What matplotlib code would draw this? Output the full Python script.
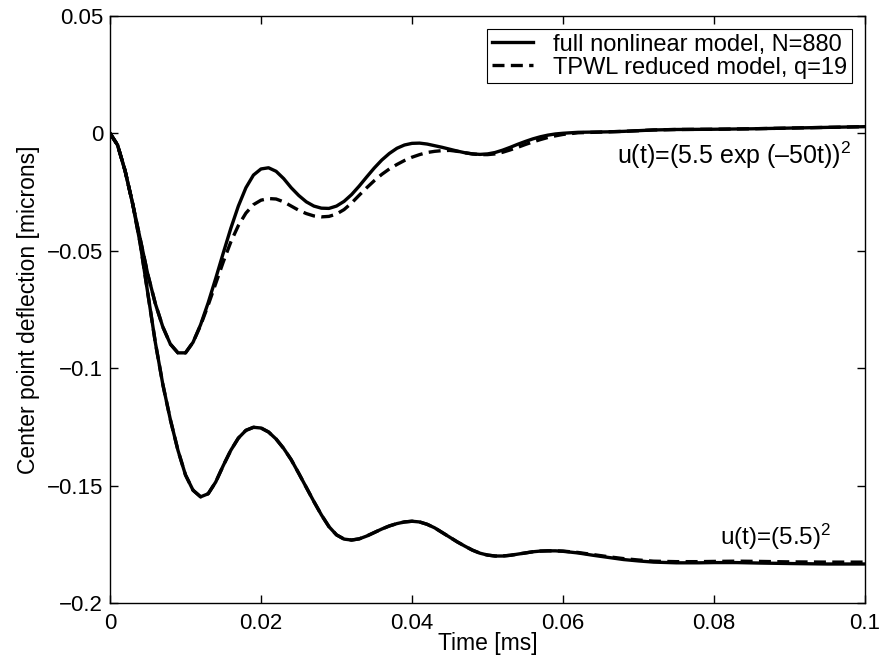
import matplotlib
matplotlib.use("Agg")
import matplotlib.pyplot as plt
from matplotlib.lines import Line2D

plt.rcParams['font.family'] = ['Liberation Sans', 'DejaVu Sans']
plt.rcParams['mathtext.fontset'] = 'custom'
plt.rcParams['mathtext.rm'] = 'Liberation Sans'
plt.rcParams['mathtext.default'] = 'regular'

# ---- data (time in ms, deflection in microns) ----
t_step = [0, 0.001, 0.002, 0.003, 0.004, 0.005, 0.006, 0.007, 0.008, 0.009,
          0.010, 0.011, 0.012, 0.013, 0.014, 0.015, 0.016, 0.017, 0.018, 0.019,
          0.020, 0.021, 0.022, 0.023, 0.024, 0.025, 0.026, 0.027, 0.028, 0.029,
          0.030, 0.031, 0.032, 0.033, 0.034, 0.035, 0.036, 0.037, 0.038, 0.039,
          0.040, 0.041, 0.042, 0.043, 0.044, 0.045, 0.046, 0.047, 0.048, 0.049,
          0.050, 0.051, 0.052, 0.053, 0.054, 0.055, 0.056, 0.057, 0.058, 0.059,
          0.060, 0.062, 0.064, 0.066, 0.068, 0.070, 0.072, 0.075, 0.078, 0.080,
          0.083, 0.086, 0.090, 0.095, 0.100]
full_step = [0, -0.005, -0.016, -0.030, -0.047, -0.068, -0.089, -0.107, -0.122, -0.135,
             -0.1455, -0.152, -0.1548, -0.1535, -0.1485, -0.1415, -0.135, -0.1298, -0.1265, -0.1252,
             -0.1255, -0.1272, -0.1302, -0.1342, -0.139, -0.1448, -0.1508, -0.1568, -0.1625, -0.1675,
             -0.1710, -0.1728, -0.1732, -0.1727, -0.1715, -0.1700, -0.1685, -0.1672, -0.1662, -0.1655,
             -0.1652, -0.1655, -0.1665, -0.168, -0.170, -0.172, -0.174, -0.1758, -0.1775, -0.1788,
             -0.1796, -0.180, -0.180, -0.1797, -0.1792, -0.1787, -0.1782, -0.1779, -0.1778, -0.1778,
             -0.178, -0.1787, -0.1797, -0.1806, -0.1815, -0.1821, -0.1826, -0.1829, -0.1829, -0.1828,
             -0.1828, -0.183, -0.1832, -0.1834, -0.1834]
tpwl_step = [0, -0.005, -0.016, -0.030, -0.047, -0.068, -0.089, -0.107, -0.122, -0.135,
             -0.1455, -0.152, -0.1548, -0.1535, -0.1485, -0.1415, -0.135, -0.1298, -0.1265, -0.1252,
             -0.1255, -0.1272, -0.1302, -0.1342, -0.139, -0.1448, -0.1508, -0.1568, -0.1625, -0.1675,
             -0.1710, -0.1728, -0.1732, -0.1727, -0.1715, -0.1700, -0.1685, -0.1672, -0.1662, -0.1655,
             -0.1652, -0.1655, -0.1665, -0.168, -0.170, -0.172, -0.174, -0.1758, -0.1775, -0.1788,
             -0.1796, -0.180, -0.180, -0.1797, -0.1792, -0.1787, -0.1782, -0.1779, -0.1778, -0.1778,
             -0.1779, -0.1785, -0.1794, -0.1803, -0.1811, -0.1817, -0.1822, -0.1824, -0.1824, -0.1823,
             -0.1822, -0.1823, -0.1825, -0.1826, -0.1826]

t_exp = [0, 0.001, 0.002, 0.003, 0.004, 0.005, 0.006, 0.007, 0.008, 0.009,
         0.010, 0.011, 0.012, 0.013, 0.014, 0.015, 0.016, 0.017, 0.018, 0.019,
         0.020, 0.021, 0.022, 0.023, 0.024, 0.025, 0.026, 0.027, 0.028, 0.029,
         0.030, 0.031, 0.032, 0.033, 0.034, 0.035, 0.036, 0.037, 0.038, 0.039,
         0.040, 0.041, 0.042, 0.043, 0.044, 0.045, 0.046, 0.047, 0.048, 0.049,
         0.050, 0.051, 0.052, 0.053, 0.054, 0.055, 0.056, 0.057, 0.058, 0.059,
         0.060, 0.062, 0.064, 0.066, 0.068, 0.070, 0.072, 0.075, 0.080, 0.085,
         0.090, 0.095, 0.100]
full_exp = [0, -0.005, -0.016, -0.030, -0.045, -0.060, -0.0725, -0.0825, -0.0898, -0.0935,
            -0.0935, -0.089, -0.0815, -0.0722, -0.0618, -0.051, -0.0405, -0.031, -0.0232, -0.0178,
            -0.0152, -0.0147, -0.0162, -0.0193, -0.0232, -0.0265, -0.0292, -0.031, -0.0319, -0.0320,
            -0.0310, -0.0290, -0.0261, -0.0225, -0.0186, -0.0148, -0.0114, -0.0086, -0.0064, -0.0050,
            -0.0043, -0.0042, -0.0046, -0.0053, -0.006, -0.0068, -0.0076, -0.0083, -0.0088, -0.009,
            -0.0088, -0.0082, -0.0072, -0.006, -0.0047, -0.0035, -0.0024, -0.0015, -0.0008, -0.0003,
            0.0000, 0.0004, 0.0005, 0.0006, 0.0008, 0.0011, 0.0014, 0.0016, 0.0017, 0.0019,
            0.0022, 0.0025, 0.0028]
tpwl_exp = [0, -0.005, -0.016, -0.030, -0.045, -0.060, -0.0725, -0.0825, -0.0898, -0.0935,
            -0.0935, -0.089, -0.0818, -0.0732, -0.064, -0.0548, -0.0463, -0.0393, -0.0340, -0.0304,
            -0.0285, -0.0278, -0.0280, -0.0292, -0.0310, -0.0328, -0.0342, -0.0352, -0.0356, -0.0354,
            -0.0344, -0.0325, -0.0297, -0.0264, -0.0232, -0.0202, -0.0175, -0.0152, -0.0133, -0.0116,
            -0.0102, -0.0091, -0.0082, -0.0077, -0.0074, -0.0073, -0.0077, -0.0083, -0.0088, -0.0091,
            -0.0091, -0.0088, -0.0081, -0.0071, -0.006, -0.0048, -0.0037, -0.0027, -0.0018, -0.0011,
            -0.0005, 0.0002, 0.0004, 0.0006, 0.0008, 0.0011, 0.0014, 0.0016, 0.0017, 0.0019,
            0.0022, 0.0025, 0.0028]

x_ticks = [0, 0.02, 0.04, 0.06, 0.08, 0.1]
x_ticklabels = ['0', '0.02', '0.04', '0.06', '0.08', '0.1']
y_ticks = [-0.2, -0.15, -0.1, -0.05, 0, 0.05]
y_ticklabels = ['\u22120.2', '\u22120.15', '\u22120.1', '\u22120.05', '0', '0.05']

legend_labels = ['full nonlinear model, N=880', 'TPWL reduced model, q=19']

# ---- figure ----
fig = plt.figure(figsize=(8.8, 6.59), dpi=100)
ax = fig.add_axes([0.125, 0.085, 0.858, 0.891])

lw = 2.4
dash = (3.6, 1.9)
ax.plot(t_step, tpwl_step, color='black', lw=lw, ls=(0, dash))
ax.plot(t_step, full_step, color='black', lw=lw)
ax.plot(t_exp, tpwl_exp, color='black', lw=lw, ls=(0, dash))
ax.plot(t_exp, full_exp, color='black', lw=lw)

ax.set_xlim(0, 0.1)
ax.set_ylim(-0.2, 0.05)
ax.set_xticks(x_ticks)
ax.set_xticklabels(x_ticklabels)
ax.set_yticks(y_ticks)
ax.set_yticklabels(y_ticklabels)
ax.tick_params(direction='in', length=6, width=1, top=True, right=True,
               labelsize=16, colors='black')
ax.tick_params(axis='x', pad=7)
ax.tick_params(axis='y', pad=5)
for s in ax.spines.values():
    s.set_linewidth(1.0)
    s.set_color('black')

ax.set_xlabel('Time [ms]', fontsize=16.5, labelpad=-1)
ax.set_ylabel('Center point deflection [microns]', fontsize=16.5, labelpad=5)

handles = [Line2D([], [], color='black', lw=lw),
           Line2D([], [], color='black', lw=lw, ls=(0, dash))]
leg = ax.legend(handles, legend_labels, loc='upper right', fontsize=17,
                frameon=True, fancybox=False, edgecolor='black', framealpha=1,
                handlelength=1.75, handletextpad=0.85, borderpad=0.2,
                labelspacing=0.05, borderaxespad=0.55)
leg.get_frame().set_linewidth(0.8)

ax.text(0.0982, -0.0092, 'u(t)=(5.5 exp (\u201350t))$^2$', fontsize=18,
        ha='right', va='center')
ax.text(0.0955, -0.1718, 'u(t)=(5.5)$^2$', fontsize=17.5, ha='right', va='center')

fig.savefig('out.png', dpi=100)
